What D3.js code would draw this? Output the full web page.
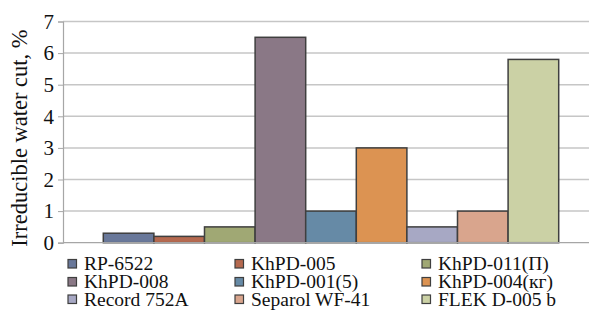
<!DOCTYPE html>
<html><head><meta charset="utf-8">
<script src="https://cdn.jsdelivr.net/npm/d3@7"></script>
<style>body{margin:0;background:#fff}svg{display:block}</style>
</head><body>
<svg id="c" width="589" height="311"></svg>
<script>
const series = ["RP-6522","KhPD-005","KhPD-011(П)","KhPD-008","KhPD-001(5)","KhPD-004(кг)","Record 752A","Separol WF-41","FLEK D-005 b"];
const values = [0.3, 0.2, 0.5, 6.5, 1.0, 3.0, 0.5, 1.0, 5.8];
const colors = ["#69789a","#b5694f","#a0a874","#8a7886","#668aa6","#dc9352","#a7a8c4","#d9a58d","#cbd1a5"];
const yTicks = [0,1,2,3,4,5,6,7];
const yTitle = "Irreducible water cut, %";

const svg = d3.select("#c");
const font = "'Liberation Serif','Times New Roman',serif";
const plotL = 63, plotR = 599, plotT = 21.5, plotB = 242.7;
const y = d3.scaleLinear().domain([0,7]).range([plotB, plotT]);
const x = d3.scaleBand().domain(series).range([103.3, 558.7]).padding(0);

// gridlines
svg.append("g").selectAll("line").data(yTicks.filter(d=>d>0)).join("line")
  .attr("x1", plotL).attr("x2", plotR)
  .attr("y1", d=>y(d)).attr("y2", d=>y(d))
  .attr("stroke", "#c6c6c6").attr("stroke-width", 1.5);

// y axis
const ax = svg.append("g").attr("transform", `translate(${plotL},0)`)
  .call(d3.axisLeft(y).tickValues(yTicks).tickSize(5).tickPadding(4).tickFormat(d3.format("d")));
ax.select(".domain").attr("stroke", "#a6a6a6").attr("stroke-width", 1.2);
ax.selectAll(".tick line").attr("stroke", "#a6a6a6");
ax.selectAll(".tick text").attr("font-family", font).attr("font-size", 21).attr("fill", "#111");

// bars
svg.append("g").selectAll("rect").data(series).join("rect")
  .attr("x", d=>x(d)).attr("width", x.bandwidth())
  .attr("y", (d,i)=>y(values[i])).attr("height", (d,i)=>y(0)-y(values[i]))
  .attr("fill", (d,i)=>colors[i])
  .attr("stroke", "#3f3f3f").attr("stroke-width", 1.5);

// x axis baseline
svg.append("line").attr("x1", plotL).attr("x2", plotR).attr("y1", plotB).attr("y2", plotB)
  .attr("stroke", "#a6a6a6").attr("stroke-width", 1.2);

// y title
svg.append("text").attr("transform", `translate(27,${(plotT+plotB)/2 + 6}) rotate(-90)`)
  .attr("text-anchor", "middle").attr("font-family", font).attr("font-size", 22.5)
  .attr("fill", "#111").text(yTitle);

// legend
const colX = [68, 235, 422];
const rowY = [264, 282, 299.5];
const lg = svg.append("g").selectAll("g").data(series).join("g")
  .attr("transform", (d,i)=>`translate(${colX[i%3]},${rowY[Math.floor(i/3)]})`);
lg.append("rect").attr("x", 0).attr("y", -4.5).attr("width", 8.5).attr("height", 8.5)
  .attr("fill", (d,i)=>colors[i]).attr("stroke", "#3f3f3f").attr("stroke-width", 1.2);
lg.append("text").attr("x", 16).attr("y", 0).attr("dy", "0.33em")
  .attr("font-family", font).attr("font-size", 19.5).attr("fill", "#111").text(d=>d);
</script>
</body></html>
